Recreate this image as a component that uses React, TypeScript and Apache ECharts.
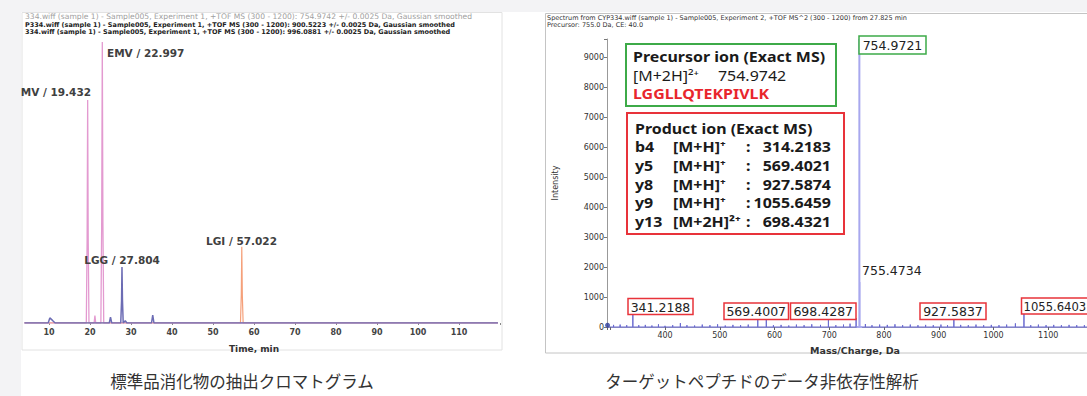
import React, { useEffect, useRef } from "react";
import * as echarts from "echarts";

// ---------- Left panel: extracted ion chromatograms (time [min], relative intensity) ----------
const emvTrace: [number, number][] = [
  [4, 0], [19.1, 0], [19.3, 30], [19.43, 78.8], [19.56, 30], [19.75, 0],
  [21.0, 0], [21.2, 2.6], [21.4, 0], [22.65, 0], [22.85, 35], [23.0, 99.3],
  [23.15, 35], [23.35, 0], [119.5, 0],
];
const lgiTrace: [number, number][] = [
  [4, 0], [56.7, 0], [56.9, 10], [57.02, 26.9], [57.15, 10], [57.35, 0], [119.5, 0],
];
const lggTrace: [number, number][] = [
  [4, 0], [9.8, 0], [10.2, 1.8], [10.8, 1], [11.5, 0], [24.7, 0], [25.0, 2.1], [25.3, 0],
  [27.5, 0], [27.7, 8], [27.8, 19.8], [27.92, 8], [28.1, 0], [28.6, 0.8], [29, 0],
  [35, 0], [35.3, 2.8], [35.6, 0], [119.5, 0],
];
const chromHeaders = [
  "334.wiff (sample 1) - Sample005, Experiment 1, +TOF MS (300 - 1200): 754.9742 +/- 0.0025 Da, Gaussian smoothed",
  "P334.wiff (sample 1) - Sample005, Experiment 1, +TOF MS (300 - 1200): 900.5223 +/- 0.0025 Da, Gaussian smoothed",
  "334.wiff (sample 1) - Sample005, Experiment 1, +TOF MS (300 - 1200): 996.0881 +/- 0.0025 Da, Gaussian smoothed",
];
const chromPeakLabels = ["EMV / 22.997", "MV / 19.432", "LGG / 27.804", "LGI / 57.022"];

// ---------- Right panel: MS/MS spectrum (m/z, intensity) ----------
const spectrumSticks: [number, number][] = [
  [306, 70], [318, 80], [330, 60], [341.2188, 460], [352, 60], [364, 70], [376, 50], [388, 90],
  [400, 40], [414, 60], [428, 130], [440, 60], [454, 50], [468, 80], [482, 60], [496, 90],
  [510, 50], [524, 70], [538, 60], [552, 80], [569.4007, 330], [585, 260], [598, 60], [612, 70],
  [626, 50], [640, 80], [654, 60], [668, 90], [684, 70], [698.4287, 260], [712, 60], [726, 80],
  [738, 110], [749, 300], [766, 100], [778, 60], [792, 80], [806, 70], [820, 90], [834, 60],
  [848, 80], [862, 60], [876, 70], [890, 60], [904, 80], [916, 60], [927.5837, 380], [940, 70],
  [954, 60], [968, 80], [982, 60], [996, 70], [1010, 60], [1024, 80], [1040, 120], [1055.6403, 540],
  [1068, 60], [1082, 80], [1096, 60], [1110, 70], [1124, 60], [1138, 70], [1152, 60], [1166, 60],
];
const precursorSticks: [number, number][] = [[754.9721, 9600], [755.4734, 1500]];
const startPoint: [number, number][] = [[295, 60]];
const spectrumHeaders = [
  "Spectrum from CYP334.wiff (sample 1) - Sample005, Experiment 2, +TOF MS^2 (300 - 1200) from 27.825 min",
  "Precursor: 755.0 Da, CE: 40.0",
];
const precursorInfo = ["Precursor ion (Exact MS)", "[M+2H]²⁺", "754.9742", "LGGLLQTEKPIVLK"];
const productTitle = "Product ion (Exact MS)";
const productIons: [string, string, string][] = [
  ["b4", "[M+H]⁺", "314.2183"],
  ["y5", "[M+H]⁺", "569.4021"],
  ["y8", "[M+H]⁺", "927.5874"],
  ["y9", "[M+H]⁺", "1055.6459"],
  ["y13", "[M+2H]²⁺", "698.4321"],
];
const peakLabelsRed = ["341.2188", "569.4007", "698.4287", "927.5837", "1055.6403"];
const peakLabelGreen = "754.9721";
const peakLabelPlain = "755.4734";
const captions = ["標準品消化物の抽出クロマトグラム", "ターゲットペプチドのデータ非依存性解析"];

function sticksToLine(sticks: [number, number][], from: number, to: number): [number, number][] {
  const out: [number, number][] = [[from, 0]];
  [...sticks].sort((a, b) => a[0] - b[0]).forEach(([x, y]) => {
    out.push([x, 0], [x, y], [x, 0]);
  });
  out.push([to, 0]);
  return out;
}

const DJ = "DejaVu Sans";
const NS = "Noto Sans";

function txt(
  x: number, y: number, text: string, size: number, weight: string, family: string,
  fill = "#333", align = "left", sx = 1, z = 10,
): any {
  return {
    type: "text",
    z,
    x, y, scaleX: sx,
    style: {
      x: 0, y: 0, text, fill, fontSize: size, fontWeight: weight, fontFamily: family,
      textAlign: align, textVerticalAlign: "middle",
    },
  };
}
function box(x: number, y: number, w: number, h: number, stroke: string, lineWidth: number, z = 8, fill = "#fff"): any {
  return { type: "rect", z, shape: { x, y, width: w, height: h }, style: { fill, stroke, lineWidth } };
}

export default function App() {
  const ref = useRef<HTMLDivElement>(null);

  useEffect(() => {
    const el = ref.current;
    if (!el) return;
    const chart = echarts.init(el, undefined, { renderer: "svg" });
    const SX = 1.14;

    const graphic: any[] = [
      // backdrop strips and panels
      { type: "rect", z: 0, shape: { x: 22, y: 12.5, width: 480, height: 337.5 }, style: { fill: "#fff", stroke: "#e2e2e2", lineWidth: 1 } },
      { type: "rect", z: 0, shape: { x: 545.5, y: 13.5, width: 560, height: 339.5 }, style: { fill: "#fff", stroke: "#c4c4c4", lineWidth: 1 } },
      { type: "rect", z: 30, shape: { x: 0, y: 0, width: 1087, height: 12 }, style: { fill: "#f3f3f5" } },
      { type: "rect", z: 30, shape: { x: 0, y: 0, width: 21, height: 396 }, style: { fill: "#f3f3f5" } },
      // left headers
      txt(25, 16.5, chromHeaders[0], 7.6, "normal", DJ, "#a0a0a0"),
      txt(25, 24.5, chromHeaders[1], 6.5, "bold", DJ, "#222"),
      txt(25, 32, chromHeaders[2], 6.5, "bold", DJ, "#222"),
      // left peak labels
      txt(107, 53, chromPeakLabels[0], 10.5, "bold", DJ, "#404040"),
      txt(91, 92, chromPeakLabels[1], 10.5, "bold", DJ, "#404040", "right"),
      txt(122, 260, chromPeakLabels[2], 10.5, "bold", DJ, "#404040", "center"),
      txt(241.5, 241, chromPeakLabels[3], 10.5, "bold", DJ, "#404040", "center"),
      // right headers
      txt(547, 18, spectrumHeaders[0], 6.5, "normal", DJ, "#333"),
      txt(547, 25, spectrumHeaders[1], 6.5, "normal", DJ, "#333"),
      // precursor box
      box(626, 44, 210, 62, "#3daa48", 2),
      txt(633, 56.5, precursorInfo[0], 14, "bold", NS, "#1a1a1a", "left", SX),
      txt(633, 75, precursorInfo[1], 14, "normal", NS, "#1a1a1a", "left", SX),
      txt(718, 75, precursorInfo[2], 14, "normal", NS, "#1a1a1a", "left", SX),
      txt(633, 93, precursorInfo[3], 14, "bold", NS, "#e8262d", "left", SX),
      // product box
      box(627, 113, 217, 121, "#e8333a", 2),
      txt(635, 128, productTitle, 14, "bold", NS, "#1a1a1a", "left", SX),
    ];
    productIons.forEach(([ion, kind, val], i) => {
      const y = 146.5 + i * 18.8;
      graphic.push(txt(635, y, ion, 14, "bold", NS, "#1a1a1a", "left", SX));
      graphic.push(txt(673, y, kind, 14, "bold", NS, "#1a1a1a", "left", SX));
      graphic.push(txt(746, y, ":", 14, "bold", NS, "#1a1a1a", "left", SX));
      graphic.push(txt(831, y, val, 14, "bold", NS, "#1a1a1a", "right", SX));
    });
    // peak label boxes
    const redBoxes = [
      [628, 298.5, 65, 16],
      [724, 303, 64.5, 16.5],
      [790.5, 303, 65.5, 16.5],
      [920, 303, 66, 16.5],
      [1021.5, 298, 75, 16],
    ];
    redBoxes.forEach(([x, y, w, h], i) => {
      graphic.push(box(x, y, w, h, "#e8333a", 1.5, 8));
      if (i < 4) graphic.push(txt(x + w / 2, y + h / 2 + 0.5, peakLabelsRed[i], 12.5, "normal", DJ, "#222", "center"));
      else graphic.push(txt(x + 2, y + h / 2 + 0.5, peakLabelsRed[i], 11.6, "normal", DJ, "#222"));
    });
    graphic.push(box(859, 36, 67, 18, "#3daa48", 1.5, 8));
    graphic.push(txt(892.5, 45.5, peakLabelGreen, 12.5, "normal", DJ, "#222", "center"));
    graphic.push(txt(862, 270, peakLabelPlain, 12.5, "normal", DJ, "#222"));
    // captions
    graphic.push(txt(242, 381, captions[0], 16.5, "normal", "Noto Sans CJK JP", "#333", "center"));
    graphic.push(txt(762, 381, captions[1], 16.5, "normal", "Noto Sans CJK JP", "#333", "center"));

    const option: any = {
      animation: false,
      backgroundColor: "#fff",
      grid: [
        { left: 8, top: 40, width: 492, height: 283, outerBoundsMode: "none", containLabel: false },
        { left: 607, top: 39, width: 496, height: 288, outerBoundsMode: "none", containLabel: false },
      ],
      xAxis: [
        {
          type: "value", gridIndex: 0, min: 0, max: 120, interval: 10,
          axisLine: { show: false },
          axisTick: { show: true, length: 2, lineStyle: { color: "#888" } },
          splitLine: { show: false },
          axisLabel: {
            margin: 5, fontSize: 8, fontWeight: "bold", fontFamily: DJ, color: "#444",
            formatter: (v: number) => (v > 0 && v < 120 ? String(v) : ""),
          },
          name: "Time, min", nameLocation: "middle", nameGap: 21,
          nameTextStyle: { fontSize: 9, fontWeight: "bold", fontFamily: DJ, color: "#333" },
        },
        {
          type: "value", gridIndex: 1, min: 294, max: 1200, splitNumber: 9,
          axisLine: { show: true, lineStyle: { color: "#8c8cc0" } },
          axisTick: { show: true, length: 3, lineStyle: { color: "#666" } },
          splitLine: { show: false },
          axisLabel: {
            margin: 4, fontSize: 8, fontFamily: DJ, color: "#333",
            formatter: (v: number) => (v >= 400 && v <= 1100 && v % 100 === 0 ? String(v) : ""),
          },
          name: "Mass/Charge, Da", nameLocation: "middle", nameGap: 18,
          nameTextStyle: { fontSize: 9.5, fontWeight: "bold", fontFamily: DJ, color: "#333" },
        },
      ],
      yAxis: [
        { type: "value", gridIndex: 0, min: 0, max: 100, show: false, splitLine: { show: false } },
        {
          type: "value", gridIndex: 1, min: 0, max: 9600, interval: 1000,
          axisLine: { show: true, lineStyle: { color: "#999" } },
          axisTick: { show: true, length: 3, lineStyle: { color: "#777" } },
          splitLine: { show: false },
          axisLabel: {
            margin: 3, fontSize: 8, fontFamily: DJ, color: "#333",
            formatter: (v: number) => (v % 1000 === 0 ? String(v) : ""),
          },
          name: "Intensity", nameLocation: "middle", nameGap: 48, nameRotate: 90,
          nameTextStyle: { fontSize: 8, fontFamily: DJ, color: "#333" },
        },
      ],
      graphic,
      series: [
        { type: "line", xAxisIndex: 0, yAxisIndex: 0, data: emvTrace, symbol: "none", lineStyle: { color: "#e39ad0", width: 1.3 }, z: 3 },
        { type: "line", xAxisIndex: 0, yAxisIndex: 0, data: lgiTrace, symbol: "none", lineStyle: { color: "#f5a07a", width: 1.2 }, z: 3 },
        { type: "line", xAxisIndex: 0, yAxisIndex: 0, data: lggTrace, symbol: "none", lineStyle: { color: "#6c6cb4", width: 1.5 }, z: 4 },
        { type: "line", xAxisIndex: 1, yAxisIndex: 1, data: sticksToLine(spectrumSticks, 294, 1200), symbol: "none", lineStyle: { color: "#6a6ad0", width: 1 }, z: 3 },
        { type: "line", xAxisIndex: 1, yAxisIndex: 1, data: sticksToLine(precursorSticks, 750, 760), symbol: "none", lineStyle: { color: "#a8a8ee", width: 2 }, z: 4 },
        { type: "scatter", xAxisIndex: 1, yAxisIndex: 1, data: startPoint, symbolSize: 5, itemStyle: { color: "#2c3c9c" }, z: 5 },
      ],
    };
    chart.setOption(option);
    return () => chart.dispose();
  }, []);

  return (
    <div style={{ position: "fixed", left: 0, top: 0, width: 1087, height: 396, overflow: "hidden", background: "#fff" }}>
      <div ref={ref} style={{ width: 1087, height: 396 }} />
    </div>
  );
}
